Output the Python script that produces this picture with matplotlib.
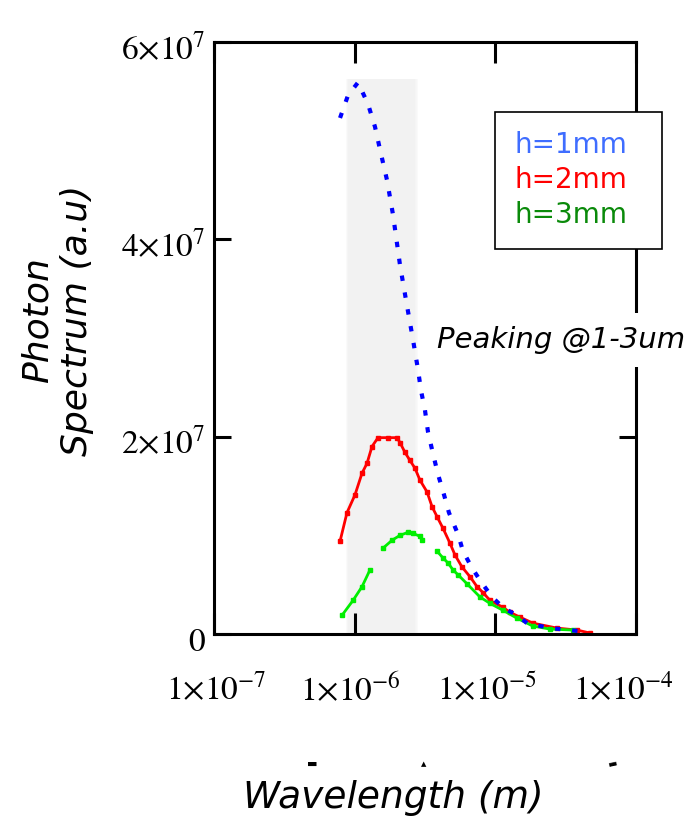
import numpy as np
import matplotlib
matplotlib.use('Agg')
import matplotlib.pyplot as plt
import matplotlib.transforms as mtransforms
from matplotlib.ticker import FixedLocator, FixedFormatter, NullLocator

plt.rcParams['mathtext.fontset'] = 'stix'
plt.rcParams['font.family'] = 'DejaVu Sans'

# wavelength in um, spectrum in units of 1e7
blue_x = [0.787, 0.897, 1.056, 1.245, 1.395, 1.514, 1.698, 1.873, 2.10, 2.317,
          2.60, 2.82, 2.96, 3.16, 3.32, 3.60, 3.91, 4.32, 4.68, 5.43,
          5.89, 6.82, 7.91, 9.47, 11.53, 14.26, 16.8, 24.5, 45.6]
blue_y = [5.23, 5.46, 5.59, 5.37, 5.14, 4.91, 4.60, 4.25, 3.74, 3.385,
          2.98, 2.68, 2.47, 2.27, 2.05, 1.83, 1.62, 1.41, 1.23, 1.01,
          0.84, 0.67, 0.53, 0.375, 0.26, 0.19, 0.11, 0.06, 0.02]

red_x = [0.787, 0.882, 1.005, 1.128, 1.224, 1.328, 1.465, 1.726, 2.0, 2.10,
         2.28, 2.47, 2.685, 2.91, 3.27, 3.55, 3.85, 4.25, 4.76, 5.17,
         5.79, 6.61, 7.41, 8.17, 9.17, 11.34, 12.7, 15.0, 18.5, 27.4,
         38.0, 47.1]
red_y = [0.94, 1.23, 1.41, 1.63, 1.73, 1.90, 1.99, 1.99, 1.99, 1.94,
         1.84, 1.76, 1.68, 1.56, 1.44, 1.29, 1.19, 1.07, 0.92, 0.80,
         0.68, 0.58, 0.48, 0.42, 0.34, 0.27, 0.22, 0.17, 0.11, 0.06,
         0.04, 0.01]

# nan = gap in the curve
green_x = [0.813, 0.973, 1.128, 1.285, np.nan, 1.59, 1.843, 2.10, 2.39, 2.60,
           2.91, 3.01, np.nan, 3.85, 4.25, 4.61, 5.0, 5.43, 6.28, 7.78,
           9.17, 11.34, 14.26, 18.5, 24.5, 35.6]
green_y = [0.19, 0.34, 0.48, 0.65, np.nan, 0.87, 0.95, 1.00, 1.03, 1.02,
           0.99, 0.95, np.nan, 0.84, 0.77, 0.72, 0.65, 0.60, 0.51, 0.375,
           0.31, 0.24, 0.16, 0.08, 0.05, 0.04]

labels = ['h=1mm', 'h=2mm', 'h=3mm']
label_colors = ['#3f6dff', '#ff0000', '#0a8a0a']

band = [0.9, 2.7]   # shaded region, um
band_top = 5.63

xticks = [1e-7, 1e-6, 1e-5, 1e-4]
xtick_labels = [r'$1{\times}10^{-7}$', r'$1{\times}10^{-6}$',
                r'$1{\times}10^{-5}$', r'$1{\times}10^{-4}$']
yticks = [0, 2e7, 4e7, 6e7]
ytick_labels = [r'$0$', r'$2{\times}10^{7}$', r'$4{\times}10^{7}$', r'$6{\times}10^{7}$']

um = 1e-6
u = 1e7

fig = plt.figure(figsize=(6.97, 8.17), dpi=100)
ax = fig.add_axes([214/697, 1-634/817, 422/697, 592/817])

# soft-edged grey band
for k, a in enumerate([0.35, 0.35, 0.35, 1.0]):
    f = 1.04 - 0.013*k
    ax.fill_between([band[0]*um/f, band[1]*um*f], 0, band_top*u,
                    color='#f2f2f2', alpha=a, lw=0, zorder=0)

l1, = ax.plot(np.array(blue_x)*um, np.array(blue_y)*u, color='#0000ff', lw=3,
              linestyle=(0, (1.3, 2.8)), solid_capstyle='butt', zorder=3)
l2, = ax.plot(np.array(red_x)*um, np.array(red_y)*u, color='#ff0000', lw=2,
              marker='s', ms=3, zorder=2)
l3, = ax.plot(np.array(green_x)*um, np.array(green_y)*u, color='#00ee00', lw=2,
              marker='s', ms=3, zorder=2)

ax.set_xscale('log')
ax.set_xlim(1e-7, 1e-4)
ax.set_ylim(0, 6e7)
ax.xaxis.set_major_locator(FixedLocator(xticks))
ax.xaxis.set_major_formatter(FixedFormatter(xtick_labels))
ax.xaxis.set_minor_locator(NullLocator())
ax.yaxis.set_major_locator(FixedLocator(yticks))
ax.yaxis.set_major_formatter(FixedFormatter(ytick_labels))

for s in ax.spines.values():
    s.set_linewidth(2.2)
ax.tick_params(axis='x', which='major', direction='in', top=True, length=15,
               width=2.2, labelsize=24, pad=28)
ax.tick_params(axis='y', which='major', direction='in', right=True, length=12,
               width=2.2, labelsize=24, pad=6)

# the x labels drift a little left of their ticks in the original
for lab, dx in zip(ax.get_xticklabels(), [2, -4, -8, -13]):
    lab.set_transform(lab.get_transform() +
                      mtransforms.ScaledTranslation(dx/100, 0, fig.dpi_scale_trans))
for lab in ax.get_yticklabels():
    lab.set_transform(lab.get_transform() +
                      mtransforms.ScaledTranslation(0, -4/100, fig.dpi_scale_trans))

leg = ax.legend([l1, l2, l3], labels, loc='upper left',
                bbox_to_anchor=(495/697, 1-112/817), bbox_transform=fig.transFigure,
                borderaxespad=0, handlelength=0.55, handletextpad=0, markerfirst=False,
                fontsize=20, fancybox=False, framealpha=1, edgecolor='black',
                borderpad=0.7, labelspacing=0.25)
leg.get_frame().set_linewidth(1.2)
for h in leg.legend_handles:
    h.set_visible(False)
for t, c in zip(leg.get_texts(), label_colors):
    t.set_color(c)

fig.text(437/697, 1-340/817, 'Peaking @1-3um', style='italic', fontsize=21,
         ha='left', va='center',
         bbox=dict(boxstyle='square,pad=0.45', facecolor='white', edgecolor='none'))

fig.text(57/697, 1-320/817, 'Photon\nSpectrum (a.u)', rotation=90, style='italic',
         fontsize=26, ha='center', va='center', multialignment='center')
fig.text(393/697, 9/817, 'Wavelength (m)', style='italic', fontsize=27,
         ha='center', va='baseline')

# small cut-off bits of a hidden label row
for xp, s, fs, rot in [(312, '\u25ac', 8, 0), (424, '\u25b2', 5, 0), (612, '\u25ac', 7, 12)]:
    fig.text(xp/697, 1-764/817, s, fontsize=fs, rotation=rot, ha='center', va='center')

fig.savefig('out.png', dpi=100)
